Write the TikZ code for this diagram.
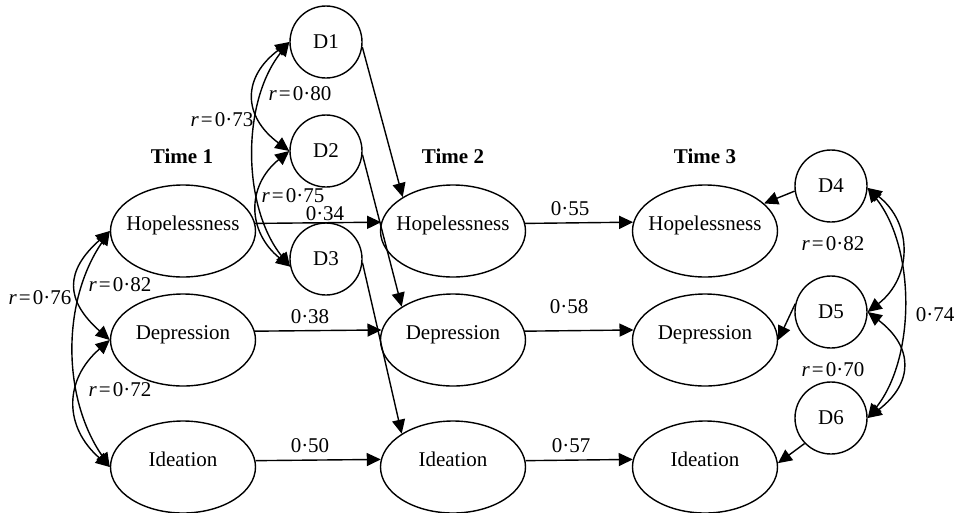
\documentclass[tikz,border=0pt]{standalone}
\usepackage{fontspec}
\setmainfont{Liberation Serif}
\usetikzlibrary{shapes.geometric,arrows.meta}
\tikzset{
  every node/.style={font=\fontsize{21}{25}\selectfont},
  lat/.style={ellipse, draw, line width=1.4pt, minimum width=145pt, minimum height=92pt, inner sep=0pt},
  dist/.style={circle, draw, line width=1.4pt, minimum size=72pt, inner sep=0pt},
  path/.style={line width=1.4pt, -{Triangle[length=14pt,width=13pt]}},
  corr/.style={line width=1.4pt, {Triangle[length=14pt,width=13pt]}-{Triangle[length=14pt,width=13pt]}},
  lbl/.style={inner sep=0pt},
  tlbl/.style={inner sep=0pt, font=\fontsize{21}{25}\selectfont\bfseries},
}
\newcommand{\lattxt}[1]{\makebox[0pt]{\raisebox{1pt}[0pt][0pt]{#1}}}
\newcommand{\rval}[1]{\textit{r}\kern2pt=\kern2pt#1}
\begin{document}
\begin{tikzpicture}[x=1pt,y=-1pt]
\useasboundingbox (0,0) rectangle (956,512);
% latent ellipses
\node[lat] (h1) at (183,231) {\lattxt{Hopelessness}};
\node[lat] (p1) at (183,340) {\lattxt{Depression}};
\node[lat] (i1) at (183,467) {\lattxt{Ideation}};
\node[lat] (h2) at (453,231) {\lattxt{Hopelessness}};
\node[lat] (p2) at (453,340) {\lattxt{Depression}};
\node[lat] (i2) at (453,467) {\lattxt{Ideation}};
\node[lat] (h3) at (705,231) {\lattxt{Hopelessness}};
\node[lat] (p3) at (705,340) {\lattxt{Depression}};
\node[lat] (i3) at (705,467) {\lattxt{Ideation}};
% disturbances
\node[dist] (d1) at (326,42) {D1};
\node[dist] (d2) at (326,151) {D2};
\node[dist] (d3) at (326,259) {D3};
\node[dist] (d4) at (831,186) {D4};
\node[dist] (d5) at (831,312) {D5};
\node[dist] (d6) at (831,418) {D6};
% time labels
\node[tlbl] (t1) at (182,156) {Time 1};
\node[tlbl] (t2) at (453,156) {Time 2};
\node[tlbl] (t3) at (705,156) {Time 3};
% horizontal paths
\draw[path] (h1.6.4) -- (h2.173.6);
\draw[path] (p1.7.2) -- (p2.172.8);
\draw[path] (i1.5.6) -- (i2.174.4);
\draw[path] (h2.6.4) -- (h3.173.6);
\draw[path] (p2.7.2) -- (p3.172.8);
\draw[path] (i2.5.6) -- (i3.174.4);
% disturbance paths
\draw[path] (d1.-8) -- (h2.146);
\draw[path] (d2.-6) -- (p2.147);
\draw[path] (d3.-6) -- (i2.147);
\draw[path] (d4.188) -- (h3.25);
\draw[path] (d5.167) -- (p3.0);
\draw[path] (d6.224) -- (i3.3);
% correlations, time 1
\draw[corr] (h1.180) .. controls +(-45,40) and +(-45,-40) .. (p1.180);
\draw[corr] (h1.180) .. controls +(-48,70) and +(-48,-70) .. (i1.180);
\draw[corr] (p1.180) .. controls +(-46,40) and +(-46,-40) .. (i1.180);
% correlations, D1-D3
\draw[corr] (d1.180) .. controls +(-47,35) and +(-47,-35) .. (d2.180);
\draw[corr] (d1.180) .. controls +(-48,60) and +(-48,-60) .. (d3.192);
\draw[corr] (d2.180) .. controls +(-43,35) and +(-43,-35) .. (d3.192);
% correlations, D4-D6
\draw[corr] (d4.-3) .. controls +(45,35) and +(45,-35) .. (d5.0);
\draw[corr] (d4.-3) .. controls +(48,60) and +(48,-60) .. (d6.0);
\draw[corr] (d5.0) .. controls +(46,35) and +(46,-35) .. (d6.0);
% labels
\node[lbl] (l76) at (40,298) {\rval{0·76}};
\node[lbl] (l82a) at (120,285) {\rval{0·82}};
\node[lbl] (l72) at (120,390) {\rval{0·72}};
\node[lbl] (l73) at (222,120) {\rval{0·73}};
\node[lbl] (l80) at (300,94) {\rval{0·80}};
\node[lbl] (l75) at (293,196) {\rval{0·75}};
\node[lbl] (l34) at (325,214) {0·34};
\node[lbl] (l38) at (310,317) {0·38};
\node[lbl] (l50) at (310,446) {0·50};
\node[lbl] (l55) at (570,209) {0·55};
\node[lbl] (l58) at (569,307) {0·58};
\node[lbl] (l57) at (571,446) {0·57};
\node[lbl] (l82b) at (833,244) {\rval{0·82}};
\node[lbl] (l70) at (833,370) {\rval{0·70}};
\node[lbl] (l74) at (935,315) {0·74};
\end{tikzpicture}
\end{document}
